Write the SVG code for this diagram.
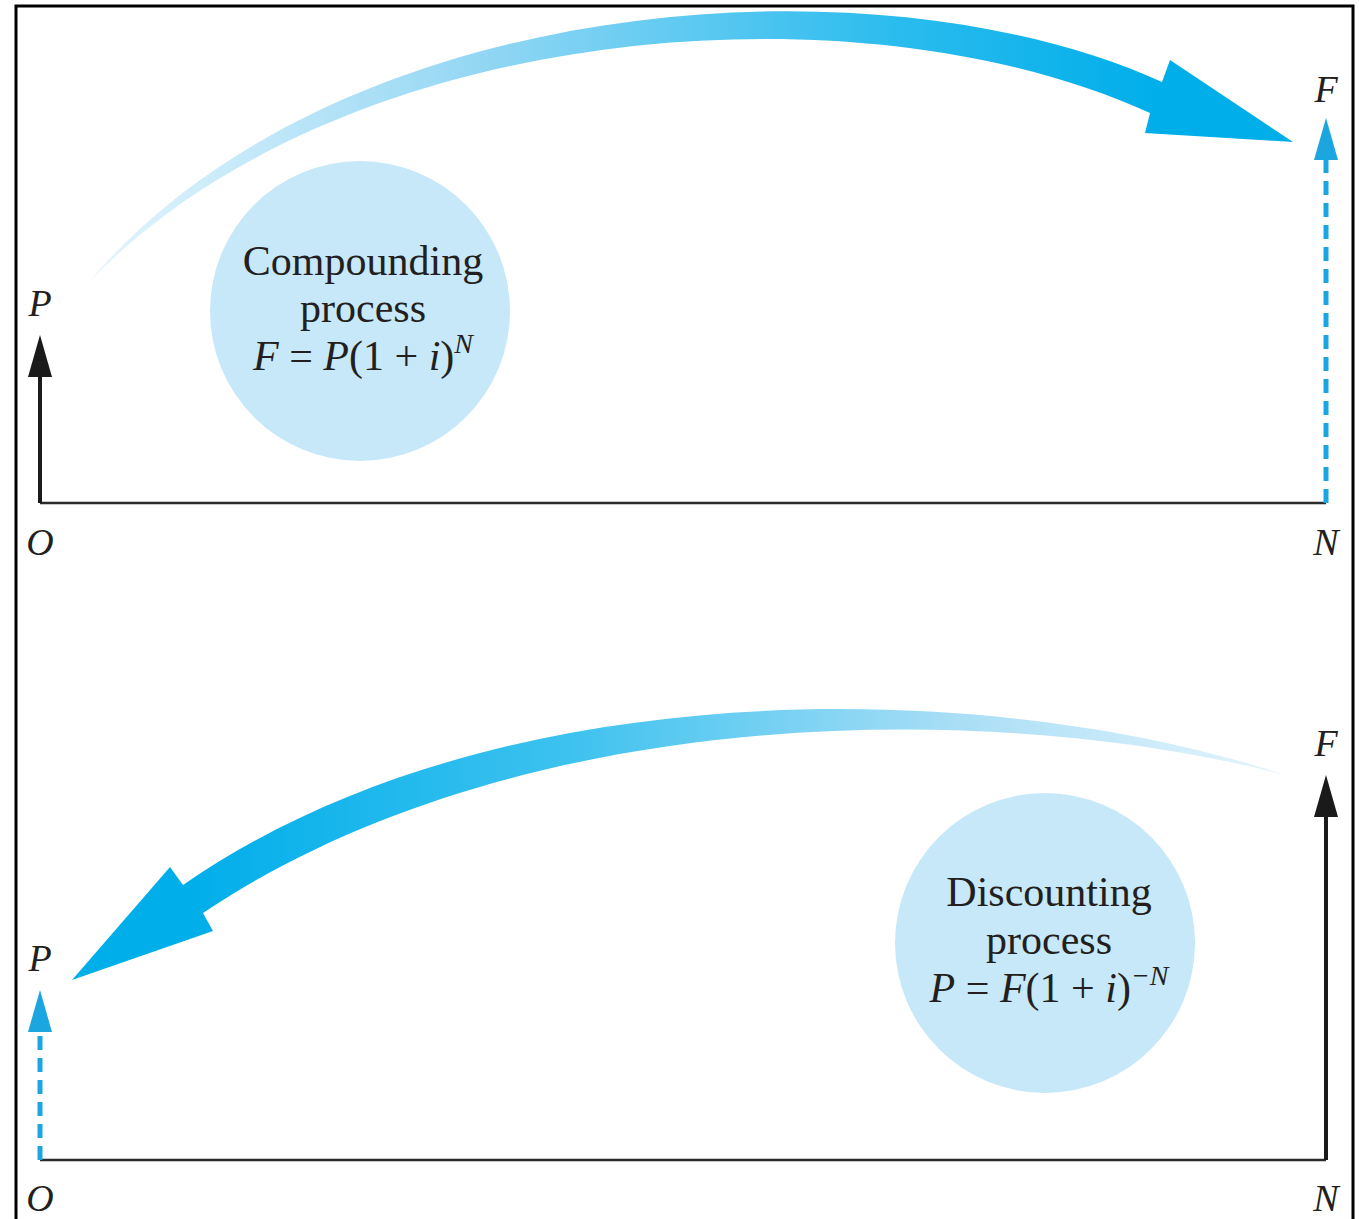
<svg xmlns="http://www.w3.org/2000/svg" width="1359" height="1219" viewBox="0 0 1359 1219">
<style>
.t{font-family:"Liberation Serif","Times New Roman",serif;fill:#231f20;font-size:42px;text-anchor:middle}
.it{font-style:italic}
.lbl{font-family:"Liberation Serif","Times New Roman",serif;font-style:italic;fill:#231f20;font-size:38px;text-anchor:middle}
.axis{stroke:#2b2b2b;stroke-width:2.5;fill:none}
.blk{stroke:#1a1a1a;stroke-width:4;fill:none}
.dash{stroke:#1ca6e0;stroke-width:5;fill:none;stroke-dasharray:14 8}
.bubble{fill:#c7e8f9}
</style>
<defs>
<linearGradient id="gTop" gradientUnits="userSpaceOnUse" x1="88" y1="0" x2="1160" y2="0">
<stop offset="0" stop-color="#e6f5fd"/>
<stop offset="0.35" stop-color="#97d8f4"/>
<stop offset="0.75" stop-color="#2bbcee"/>
<stop offset="1" stop-color="#00aeea"/>
</linearGradient>
<linearGradient id="gBot" gradientUnits="userSpaceOnUse" x1="1285" y1="0" x2="190" y2="0">
<stop offset="0" stop-color="#e6f5fd"/>
<stop offset="0.3" stop-color="#a9def6"/>
<stop offset="0.65" stop-color="#3ec2ef"/>
<stop offset="1" stop-color="#00aeea"/>
</linearGradient>
</defs>
<rect x="0" y="0" width="1359" height="1219" fill="#ffffff"/>
<g id="frame">
<rect x="16" y="6" width="1337" height="1240" fill="none" stroke="#000" stroke-width="3"/>
</g>
<g id="top-panel">
<line class="axis" x1="40" y1="503" x2="1326" y2="503"/>
<text class="lbl" x="40" y="316">P</text>
<text class="lbl" x="40" y="555">O</text>
<text class="lbl" x="1326" y="555">N</text>
<text class="lbl" x="1326" y="102">F</text>
</g>
<g id="compounding-node">
<circle class="bubble" cx="360" cy="311" r="150"/>
<text class="t" x="363" y="275">Compounding</text>
<text class="t" x="363" y="322">process</text>
<text class="t" x="363" y="370"><tspan class="it">F</tspan> = <tspan class="it">P</tspan>(1 + <tspan class="it">i</tspan>)<tspan class="it" font-size="28" dy="-17">N</tspan></text>
</g>
<g id="bottom-panel">
<line class="axis" x1="40" y1="1160" x2="1326" y2="1160"/>
<text class="lbl" x="40" y="971">P</text>
<text class="lbl" x="40" y="1211">O</text>
<text class="lbl" x="1326" y="1211">N</text>
<text class="lbl" x="1326" y="756">F</text>
</g>
<g id="discounting-node">
<circle class="bubble" cx="1045" cy="943" r="150"/>
<text class="t" x="1049" y="906">Discounting</text>
<text class="t" x="1049" y="954">process</text>
<text class="t" x="1049" y="1002"><tspan class="it">P</tspan> = <tspan class="it">F</tspan>(1 + <tspan class="it">i</tspan>)<tspan class="it" font-size="28" dy="-17">−N</tspan></text>
</g>
<g id="connectors">
<line class="blk" x1="40" y1="503" x2="40" y2="370"/>
<polygon points="40,335 28,377 52,377" fill="#1a1a1a"/>
<line class="dash" x1="1326" y1="503" x2="1326" y2="158"/>
<polygon points="1326,118 1314,160 1338,160" fill="#1ca6e0"/>
<line class="dash" x1="40" y1="1160" x2="40" y2="1030"/>
<polygon points="40,990 28,1032 52,1032" fill="#1ca6e0"/>
<line class="blk" x1="1326" y1="1160" x2="1326" y2="812"/>
<polygon points="1326,775 1314,817 1338,817" fill="#1a1a1a"/>
<path fill="url(#gTop)" d="M88,283 C330,-5 870,-50 1162,82 L1170,60 L1293,142 L1145,133 L1150,113 C860,-20 340,20 88,283 Z"/>
<path fill="url(#gBot)" d="M1285,775 C1000,680 500,665 183,885 L170,867 L72,980 L213,931 L203,913 C520,700 1000,700 1285,775 Z"/>
</g>
</svg>
